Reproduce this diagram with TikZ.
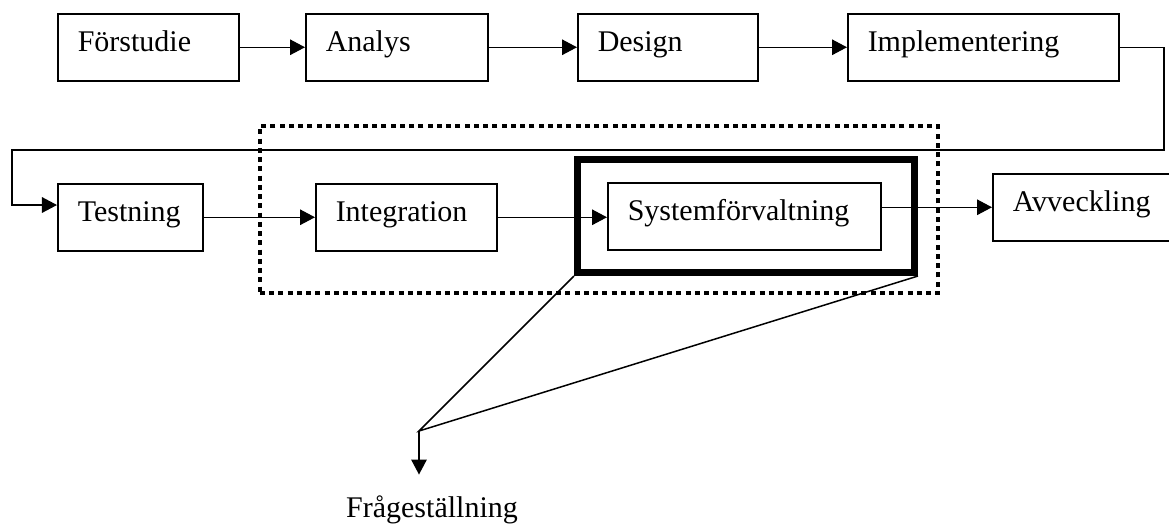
\documentclass[tikz,border=0pt]{standalone}
\usepackage{fontspec}
\setmainfont{Liberation Serif}
\usetikzlibrary{arrows.meta}

\tikzset{
  stage/.style={draw, line width=0.6pt, anchor=north west, align=left,
    inner xsep=8pt, inner ysep=0pt, text height=15.2pt, text depth=11.6pt},
  focus/.style={draw, line width=2.8pt, inner sep=0pt},
  phase/.style={draw, line width=1.6pt, dash pattern=on 2pt off 1.7pt, inner sep=0pt},
}

\begin{document}
\begin{tikzpicture}[x=0.4pt, y=-0.4pt, font=\fontsize{12}{14}\selectfont, line width=0.6pt, >={Triangle[length=6pt,width=6.2pt]}]
	\useasboundingbox (0,0) rectangle (1169,523);
	% first row of phases
	\foreach \n/\x/\w/\t in {forstudie/57/56.4pt/Förstudie, analys/305/56.8pt/Analys, design/577/56pt/Design, impl/847/92.4pt/Implementering}
		\node[stage, text width=\w] (\n) at (\x,13) {\t};
	% second row
	\node[stage, text width=42pt] (testning) at (57,183) {Testning};
	\node[stage, text width=56.4pt] (integration) at (315,183) {Integration};
	\node[stage, text width=93.2pt] (system) at (607,182) {Systemförvaltning};
	\node[stage, text width=58pt] (avveckling) at (992,173) {Avveckling};
	% frames round the studied phases
	\node[phase, minimum width=271.2pt, minimum height=66.8pt] (phase) at (599,209.5) {};
	\node[focus, minimum width=134.8pt, minimum height=45.2pt] (focus) at (746,216) {};
	% arrows between phases
	\draw[->] (forstudie.east) -- (analys.west);
	\draw[->] (analys.east) -- (design.west);
	\draw[->] (design.east) -- (impl.west);
	\coordinate (turn) at (1164,150);
	\coordinate (drop) at (12,205);
	\draw[->] (impl.east) -| (turn) -| (drop) -- (drop -| testning.west);
	\draw[->] (testning.east) -- (integration.west);
	\draw[->] (integration.east) -- (integration.east -| system.west);
	\draw[->] (system.east |- avveckling.west) -- (avveckling.west);
	% question
	\coordinate (q) at (419,431);
	\node[inner ysep=8pt, anchor=base] (fraga) at (432,517) {Frågeställning};
	\draw (focus.south west) -- (q) -- (focus.south east);
	\draw[->] (q) -- (q |- fraga.north);
\end{tikzpicture}
\end{document}
